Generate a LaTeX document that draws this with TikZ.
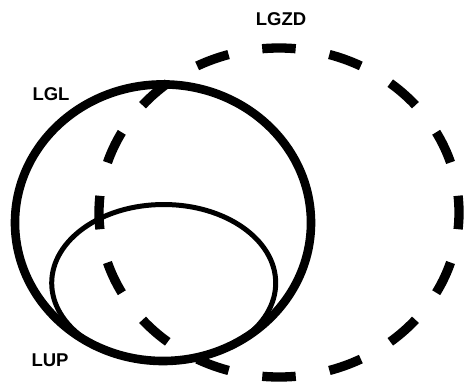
\documentclass[tikz,border=0pt]{standalone}
\usepackage{fontspec}
\setmainfont{Liberation Sans}
\begin{document}
\begin{tikzpicture}[x=1bp,y=-1bp,
  lbl/.style={font=\bfseries\fontsize{18.5bp}{22bp}\selectfont, inner sep=0pt, anchor=center},
  solidring/.style={draw=black, line width=8.6bp},
  thinring/.style={draw=black, line width=5bp},
  dashring/.style={draw=black, line width=9.3bp, line cap=butt, dash pattern=on 33.5bp off 34.18bp, dash phase=16.75bp}]
\useasboundingbox (0,0) rectangle (466,381);
\draw[dashring] (279,212.5) ellipse [x radius=180, y radius=164.5];
\draw[solidring] (163,222.7) ellipse [x radius=148, y radius=138.3];
\draw[thinring] (163.7,283) ellipse [x radius=112, y radius=78.5];
\node[lbl] (lgzd) at (281,19.5) {LGZD};
\node[lbl] (lgl) at (51,94.5) {LGL};
\node[lbl] (lup) at (50,360) {LUP};
\end{tikzpicture}
\end{document}
